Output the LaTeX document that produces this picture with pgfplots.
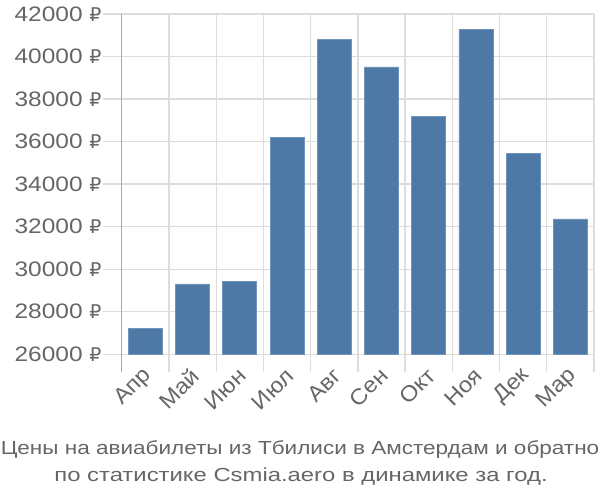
\documentclass[border=0pt]{standalone}
\usepackage{pgfplots}
\pgfplotsset{compat=1.18}
\usepackage{fontspec}
\setmainfont{Liberation Sans}[FakeStretch=1.17]
\newfontfamily\plainfont{Liberation Sans}[FakeStretch=1.08]
\newfontfamily\titlefont{Liberation Sans}[FakeStretch=1.19]
\newfontfamily\titlefontb{Liberation Sans}[FakeStretch=1.26]
\newfontfamily\rubfont{DejaVu Sans}
\newcommand{\rub}{{\rubfont\fontsize{19}{22}\selectfont ₽}}
\definecolor{barblue}{HTML}{4E79A7}
\definecolor{gridgray}{HTML}{DDDDDD}
\definecolor{axisgray}{HTML}{AAAAAA}
\definecolor{textgray}{HTML}{666666}
\begin{document}
\begin{tikzpicture}[x=1bp,y=1bp]
\useasboundingbox (0,0) rectangle (600,500);
\begin{axis}[
  at={(121.7bp,145.7bp)}, anchor=south west,
  scale only axis, width=472.3bp, height=340.3bp,
  xmin=-0.5, xmax=9.5, ymin=26000, ymax=42000,
  scaled y ticks=false,
  axis x line*=bottom, axis y line*=left,
  axis line style={draw=none},
  xtick={0,...,9},
  xticklabels={Апр,Май,Июн,Июл,Авг,Сен,Окт,Ноя,Дек,Мар},
  major x tick style={draw=none},
  minor xtick={-0.5,0.5,...,9.5},
  minor x tick style={gridgray, line width=1.3bp},
  minor tick length=18bp,
  xminorgrids, minor x grid style={gridgray, line width=1.3bp},
  ytick={26000,28000,...,42000},
  yticklabels={26000 \rub,28000 \rub,30000 \rub,32000 \rub,34000 \rub,36000 \rub,38000 \rub,40000 \rub,42000 \rub},
  ymajorgrids, major y grid style={gridgray, line width=1.3bp},
  major y tick style={gridgray, line width=1.3bp},
  major tick length=19bp,
  tick align=outside,
  tick label style={font=\fontsize{21}{24}\selectfont, text=textgray},
  yticklabel style={inner sep=1bp},
  xticklabel style={font=\plainfont\fontsize{22}{24}\selectfont, rotate=45, anchor=east, inner sep=0pt, yshift=-1bp, xshift=3bp},
  clip=false,
]
\draw[gridgray, line width=1.3bp] (axis cs:-0.5,26000) -- (axis cs:9.5,26000);
\addplot[ybar, bar width=34bp, fill=barblue, draw=barblue!80!white, line width=0.6bp]
  coordinates {(0,27220) (1,29310) (2,29440) (3,36210) (4,40820) (5,39510) (6,37180) (7,41260) (8,35430) (9,32370)};
\draw[axisgray, line width=1.5bp] (axis cs:-0.5,42000) -- (axis cs:-0.5,26000) -- ([yshift=-18bp]axis cs:-0.5,26000);
\end{axis}
\node[text=textgray, font=\titlefont\fontsize{19}{28}\selectfont, anchor=base] at (300,45.5) {Цены на авиабилеты из Тбилиси в Амстердам и обратно};
\node[text=textgray, font=\titlefontb\fontsize{19}{28}\selectfont, anchor=base] at (301,18) {по статистике Csmia.aero в динамике за год.};
\end{tikzpicture}
\end{document}
